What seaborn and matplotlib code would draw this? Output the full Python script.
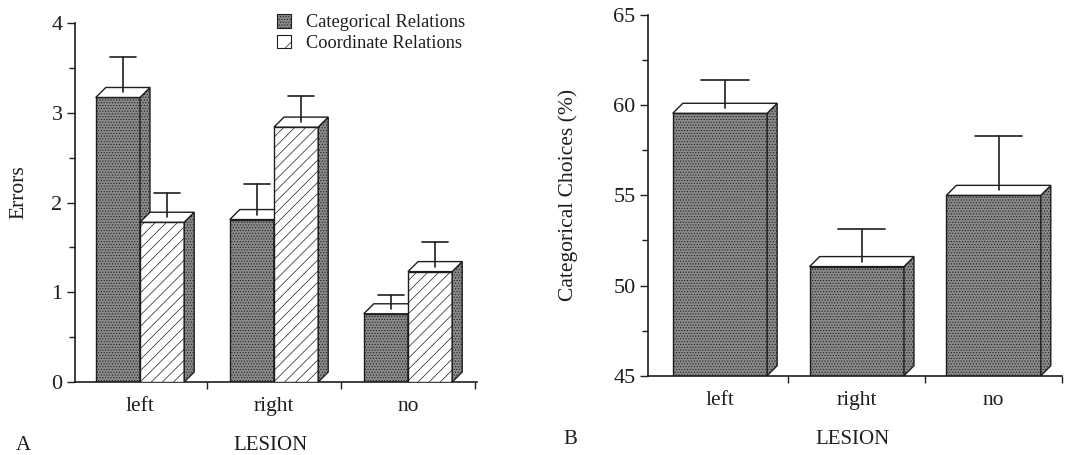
import matplotlib
matplotlib.use("Agg")
import matplotlib.pyplot as plt
import seaborn as sns
import pandas as pd
from matplotlib.patches import Polygon, Patch

# values
LESION = ["left", "right", "no"]
RELATIONS = ["Categorical Relations", "Coordinate Relations"]
ERR_CAT = [3.17, 1.81, 0.76]
ERR_COORD = [1.78, 2.84, 1.23]
ERR_CAT_UP = [3.62, 2.21, 0.97]
ERR_COORD_UP = [2.11, 3.19, 1.56]
CHOICES = [59.55, 51.05, 55.0]
CHOICES_UP = [61.4, 53.15, 58.3]

sns.set_theme(style="ticks")
plt.rcParams["font.family"] = ["Liberation Serif", "DejaVu Serif"]
plt.rcParams["hatch.linewidth"] = 0.5

INK = "#1e1e1e"
GRAY = "#8a8a8a"
DOTS = "......"
DEPTH = (10, 10)  # pixels right / up for the fake 3D look


def to_data(ax, px):
    return ax.transData.inverted().transform(px)


def add_depth(ax, p, z, ybot=None):
    x0, w, h = p.get_x(), p.get_width(), p.get_height()
    y0 = p.get_y() if ybot is None else ybot
    top = p.get_y() + h
    t = ax.transData.transform
    dx, dy = DEPTH
    fl, fr = t((x0, top)), t((x0 + w, top))
    br = t((x0 + w, y0))
    side = [fr, fr + (dx, dy), br + (dx, dy), br]
    lid = [fl, fr, fr + (dx, dy), fl + (dx, dy)]
    ax.add_patch(Polygon([to_data(ax, v) for v in side], closed=True,
                         facecolor=GRAY, edgecolor=INK, hatch=DOTS,
                         lw=1, zorder=z, clip_on=False))
    ax.add_patch(Polygon([to_data(ax, v) for v in lid], closed=True,
                         facecolor="white", edgecolor=INK, lw=1,
                         zorder=z, clip_on=False))


def add_err(ax, p, upper, cap_frac, z):
    xc = p.get_x() + p.get_width() / 2
    top = p.get_y() + p.get_height()
    mid = ax.transData.transform((xc, top)) + (DEPTH[0] / 2, DEPTH[1] / 2)
    xl, ys = to_data(ax, mid)
    cap = p.get_width() * cap_frac
    ax.plot([xl, xl], [ys, upper], color=INK, lw=1.2, zorder=z, clip_on=False)
    ax.plot([xl - cap, xl + cap], [upper, upper], color=INK, lw=1.2,
            zorder=z, clip_on=False)


def style_axis(ax, ylim, major, minor, xlim, label):
    ax.set_xlim(*xlim)
    ax.set_ylim(*ylim)
    ax.set_yticks(major)
    ax.set_yticks(minor, minor=True)
    ax.set_xticks(range(len(LESION)))
    ax.set_xticklabels(LESION)
    ax.set_xticks([0.5, 1.5, 2.5], minor=True)
    ax.tick_params(axis="x", which="major", length=0, pad=11, labelsize=15.5,
                   colors=INK)
    ax.tick_params(axis="x", which="minor", length=5, width=1, color=INK)
    ax.tick_params(axis="y", which="major", length=6, width=1, labelsize=16,
                   colors=INK, pad=3)
    ax.tick_params(axis="y", which="minor", length=4, width=1, color=INK)
    for s in ["top", "right"]:
        ax.spines[s].set_visible(False)
    for s in ["left", "bottom"]:
        ax.spines[s].set_color(INK)
        ax.spines[s].set_linewidth(1.2)
    ax.set_xlabel("")
    ax.set_ylabel(label, fontsize=15.5, color=INK)
    ax.set_facecolor("white")


fig = plt.figure(figsize=(10.69, 4.55), dpi=100)
fig.patch.set_facecolor("white")

# ---- panel A ----
axA = fig.add_axes([75 / 1069, 73 / 455, 402 / 1069, 359 / 455])
dfA = pd.DataFrame({
    "lesion": LESION * 2,
    "relation": [RELATIONS[0]] * 3 + [RELATIONS[1]] * 3,
    "errors": ERR_CAT + ERR_COORD,
})
sns.barplot(data=dfA, x="lesion", y="errors", hue="relation", order=LESION,
            hue_order=RELATIONS, errorbar=None, width=0.66, ax=axA,
            legend=False)
style_axis(axA, (0, 4), [0, 1, 2, 3, 4], [0.5, 1.5, 2.5, 3.5],
           (-0.485, 2.515), "Errors")
axA.yaxis.set_label_coords(-0.117, 0.53)

uppers = [ERR_CAT_UP, ERR_COORD_UP]
for j, cont in enumerate(axA.containers):
    for i, p in enumerate(cont.patches):
        z = 2 + j
        if j == 0:
            p.set_facecolor(GRAY)
            p.set_hatch(DOTS)
        else:
            p.set_facecolor("white")
            p.set_hatch("///")
        p.set_edgecolor(INK)
        p.set_linewidth(1)
        p.set_zorder(z)
        add_depth(axA, p, z)
        add_err(axA, p, uppers[j][i], 0.3, z + 0.01)

handles = [Patch(facecolor=GRAY, edgecolor=INK, hatch=DOTS, lw=0.8),
           Patch(facecolor="white", edgecolor=INK, hatch="/", lw=0.8)]
fig.legend(handles, RELATIONS, loc="upper left",
           bbox_to_anchor=(268 / 1069, 1 - 5 / 455), frameon=False,
           fontsize=13.2, handlelength=0.75, handleheight=0.75,
           handletextpad=0.85, labelspacing=0.2, borderpad=0,
           labelcolor=INK)

# ---- panel B ----
axB = fig.add_axes([648 / 1069, 79.3 / 455, 414 / 1069, 360.7 / 455])
dfB = pd.DataFrame({"lesion": LESION, "choices": CHOICES})
sns.barplot(data=dfB, x="lesion", y="choices", order=LESION, errorbar=None,
            width=0.69, color=GRAY, ax=axB)
style_axis(axB, (45, 65), [45, 50, 55, 60, 65], [47.5, 52.5, 57.5, 62.5],
           (-0.526, 2.496), "Categorical Choices (%)")
axB.yaxis.set_label_coords(-0.168, 0.5)

for i, p in enumerate(axB.containers[0].patches):
    p.set_facecolor(GRAY)
    p.set_hatch(DOTS)
    p.set_edgecolor(INK)
    p.set_linewidth(1)
    p.set_zorder(2)
    add_depth(axB, p, 2, ybot=45)
    add_err(axB, p, CHOICES_UP[i], 0.25, 2.01)

# panel letters and axis titles
fig.text(23 / 1069, 1 - 445 / 455, "A", fontsize=15, color=INK,
         ha="center", va="center")
fig.text(570 / 1069, 1 - 440 / 455, "B", fontsize=15, color=INK,
         ha="center", va="center")
fig.text(270 / 1069, 1 - 445 / 455, "LESION", fontsize=15, color=INK,
         ha="center", va="center")
fig.text(853 / 1069, 1 - 440 / 455, "LESION", fontsize=15, color=INK,
         ha="center", va="center")

fig.savefig("out.png", dpi=100, facecolor="white")
